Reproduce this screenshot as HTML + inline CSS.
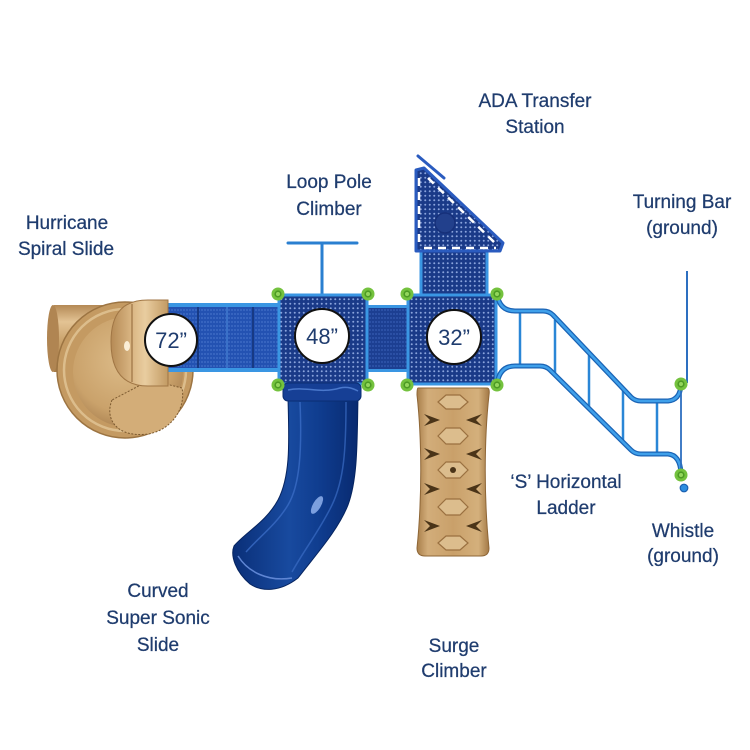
<!DOCTYPE html>
<html><head><meta charset="utf-8">
<style>html,body{margin:0;padding:0;background:#fff;}svg{display:block}</style></head>
<body>
<svg width="750" height="750" viewBox="0 0 750 750" xmlns="http://www.w3.org/2000/svg">
<defs>
<pattern id="deck" width="4.5" height="4.5" patternUnits="userSpaceOnUse">
 <rect width="4.5" height="4.5" fill="#1a3a88"/>
 <circle cx="2.25" cy="2.25" r="1" fill="#8aa3dc"/>
</pattern>
<pattern id="walk" width="3" height="4" patternUnits="userSpaceOnUse">
 <rect width="3" height="4" fill="#2352b2"/>
 <rect x="0" y="1.5" width="2" height="1" fill="#4a76cc"/>
</pattern>
<pattern id="walk2" width="3" height="4" patternUnits="userSpaceOnUse">
 <rect width="3" height="4" fill="#1c3f92"/>
 <rect x="0" y="1.5" width="2" height="1" fill="#3a62b8"/>
</pattern>
<linearGradient id="tubeG" x1="0" y1="0" x2="0" y2="1">
 <stop offset="0" stop-color="#b48955"/><stop offset="0.25" stop-color="#e3c394"/>
 <stop offset="0.55" stop-color="#c9a16a"/><stop offset="1" stop-color="#a57b47"/>
</linearGradient>
<radialGradient id="bowlG" cx="0.45" cy="0.4" r="0.65">
 <stop offset="0" stop-color="#dcbb88"/><stop offset="0.7" stop-color="#caa26b"/><stop offset="1" stop-color="#a98050"/>
</radialGradient>
<linearGradient id="hoodG" x1="0" y1="0" x2="1" y2="0">
 <stop offset="0" stop-color="#b58a55"/><stop offset="0.35" stop-color="#d8b481"/>
 <stop offset="0.6" stop-color="#e9cda0"/><stop offset="1" stop-color="#c29a63"/>
</linearGradient>
<linearGradient id="slideG" x1="0" y1="0" x2="1" y2="0">
 <stop offset="0" stop-color="#0a2f78"/><stop offset="0.45" stop-color="#184a9f"/>
 <stop offset="0.7" stop-color="#0f3c8e"/><stop offset="1" stop-color="#082a70"/>
</linearGradient>
<linearGradient id="surgeG" x1="0" y1="0" x2="1" y2="0">
 <stop offset="0" stop-color="#a97f4b"/><stop offset="0.15" stop-color="#d2ad7a"/>
 <stop offset="0.5" stop-color="#c9a06a"/><stop offset="0.85" stop-color="#d4b07c"/><stop offset="1" stop-color="#a27845"/>
</linearGradient>
<g id="bolt">
 <circle r="6.5" fill="#74c23e"/><circle r="3.6" fill="#4c9a24"/><circle r="2" fill="#93d65c"/>
</g>
</defs>

<!-- Spiral slide -->
<path d="M54,305 L108,305 L108,372 L54,372 Z" fill="url(#tubeG)"/>
<ellipse cx="53" cy="338.5" rx="6" ry="33.5" fill="#b08552"/>
<circle cx="125" cy="370" r="68" fill="#c49a62" stroke="#9c7442" stroke-width="1.5"/>
<circle cx="125" cy="370" r="61" fill="none" stroke="#dcbd8c" stroke-width="2.5"/>
<circle cx="128" cy="372" r="55" fill="url(#bowlG)"/>
<path d="M112,400 C104,420 118,438 148,434 C172,430 186,408 182,388 L150,380 Z" fill="#d3ad78" stroke="#7c5a30" stroke-width="1" stroke-dasharray="2,1.5"/>

<!-- walkway -->
<rect x="158" y="303" width="122" height="69" fill="url(#walk)"/>
<rect x="158" y="303" width="122" height="4" fill="#3a96e3"/>
<rect x="158" y="368" width="122" height="4" fill="#3a96e3"/>
<line x1="198" y1="307" x2="198" y2="368" stroke="#173a85" stroke-width="2"/>
<line x1="227" y1="307" x2="227" y2="368" stroke="#3a70c8" stroke-width="2"/>
<line x1="253" y1="307" x2="253" y2="368" stroke="#173a85" stroke-width="2"/>

<!-- hood -->
<path d="M111,342 C111,312 124,300 148,300 L168,300 L168,386 L148,386 C124,386 111,372 111,342 Z" fill="url(#hoodG)" stroke="#a07645" stroke-width="1"/>
<line x1="132" y1="304" x2="132" y2="382" stroke="#a98050" stroke-width="1.5"/>
<ellipse cx="127" cy="346" rx="3" ry="5" fill="#fbeed6"/>

<!-- 72 circle -->
<circle cx="171" cy="340" r="26" fill="#fff" stroke="#111" stroke-width="2"/>
<text x="171" y="348" font-family="Liberation Sans, sans-serif" font-size="22" fill="#1f3c6e" text-anchor="middle">72”</text>

<!-- bridge -->
<rect x="366" y="305" width="43" height="67" fill="url(#walk2)"/>
<rect x="366" y="305" width="43" height="3" fill="#3a96e3"/>
<rect x="366" y="369" width="43" height="3" fill="#3a96e3"/>

<!-- loop pole climber -->
<line x1="288" y1="243" x2="357" y2="243" stroke="#2a7fd0" stroke-width="3" stroke-linecap="round"/>
<line x1="322" y1="243" x2="322" y2="296" stroke="#2a7fd0" stroke-width="3"/>

<!-- ADA transfer -->
<rect x="421" y="248" width="66" height="47" fill="url(#deck)"/>
<line x1="421" y1="248" x2="421" y2="295" stroke="#3a96e3" stroke-width="3"/>
<line x1="487" y1="248" x2="487" y2="295" stroke="#3a96e3" stroke-width="3"/>
<path d="M416,170 L424,168 L503,243 L500,251 L416,251 Z" fill="url(#deck)" stroke="#2a5bbf" stroke-width="3" stroke-linejoin="round"/>
<line x1="428" y1="178" x2="495" y2="243" stroke="#fff" stroke-width="2.5" stroke-dasharray="8,6"/>
<line x1="424" y1="248" x2="496" y2="248" stroke="#fff" stroke-width="2.5" stroke-dasharray="8,6"/>
<line x1="419" y1="178" x2="419" y2="245" stroke="#fff" stroke-width="2.5" stroke-dasharray="8,6"/>
<circle cx="445" cy="223" r="10" fill="#22408c" stroke="#16307a" stroke-width="1.5"/>
<line x1="418" y1="156" x2="444" y2="178" stroke="#2a5bbf" stroke-width="3" stroke-linecap="round"/>

<!-- decks -->
<rect x="279" y="295" width="88" height="89" rx="3" fill="url(#deck)" stroke="#3a96e3" stroke-width="3"/>
<rect x="408" y="295" width="88" height="89" rx="3" fill="url(#deck)" stroke="#3a96e3" stroke-width="3"/>

<circle cx="322" cy="336" r="27" fill="#fff" stroke="#111" stroke-width="2"/>
<text x="322" y="344" font-family="Liberation Sans, sans-serif" font-size="22" fill="#1f3c6e" text-anchor="middle">48”</text>
<circle cx="454" cy="337" r="27" fill="#fff" stroke="#111" stroke-width="2"/>
<text x="454" y="345" font-family="Liberation Sans, sans-serif" font-size="22" fill="#1f3c6e" text-anchor="middle">32”</text>

<!-- ladder -->
<g stroke="#2a86d6" stroke-width="2.5">
 <line x1="520" y1="311" x2="520" y2="366"/>
 <line x1="555" y1="320" x2="555" y2="377"/>
 <line x1="589" y1="354" x2="589" y2="409"/>
 <line x1="623" y1="389" x2="623" y2="441"/>
 <line x1="657" y1="401" x2="657" y2="454"/>
</g>
<g fill="none" stroke-linecap="round" stroke-linejoin="round">
 <path d="M497,293 Q499,311 515,311 L543,311 Q549,311 553,315 L631,397 Q635,401 641,401 L668,401 Q680,400 681,385" stroke="#1a63b5" stroke-width="5"/>
 <path d="M497,385 Q499,366 515,366 L540,366 Q546,366 550,370 L631,450 Q635,454 641,454 L668,454 Q680,455 681,473" stroke="#1a63b5" stroke-width="5"/>
 <path d="M497,293 Q499,311 515,311 L543,311 Q549,311 553,315 L631,397 Q635,401 641,401 L668,401 Q680,400 681,385" stroke="#3fa0ea" stroke-width="2.5"/>
 <path d="M497,385 Q499,366 515,366 L540,366 Q546,366 550,370 L631,450 Q635,454 641,454 L668,454 Q680,455 681,473" stroke="#3fa0ea" stroke-width="2.5"/>
</g>
<line x1="687" y1="271" x2="687" y2="383" stroke="#2d6fc0" stroke-width="2"/>
<line x1="681" y1="385" x2="681" y2="473" stroke="#2d6fc0" stroke-width="1.8"/>
<circle cx="684" cy="488" r="3.8" fill="#2d8ee0" stroke="#1a5fb0" stroke-width="1.2"/>

<!-- curved slide -->
<path d="M288,398 C289,440 291,475 278,500 C266,522 246,532 234,546 C230,556 236,572 250,584 C262,592 280,592 298,578 C318,552 338,530 348,505 C358,478 357,440 358,398 Z" fill="url(#slideG)" stroke="#06245f" stroke-width="1"/>
<path d="M300,402 C302,450 300,485 288,505 C276,525 258,538 246,552" fill="none" stroke="#3a6cc4" stroke-width="1.5" opacity="0.8"/>
<path d="M346,402 C346,450 344,480 332,505 C320,530 304,550 292,572" fill="none" stroke="#3a6cc4" stroke-width="1.5" opacity="0.7"/>
<ellipse cx="317" cy="505" rx="4" ry="10" transform="rotate(30 317 505)" fill="#8fb0ec" opacity="0.85"/>
<path d="M238,556 C248,572 268,582 292,578" fill="none" stroke="#5f86d4" stroke-width="1.5"/>
<rect x="283" y="383" width="78" height="18" rx="5" fill="#163f95" stroke="#0a2d72" stroke-width="1"/>
<path d="M288,390 C305,386 320,394 340,388 C348,386 354,389 358,391" fill="none" stroke="#4a78cc" stroke-width="1.5"/>

<!-- surge climber -->
<path d="M418,388 L487,388 Q490,388 489,395 C484,440 484,500 489,548 Q489,556 481,556 L425,556 Q417,556 417,548 C422,500 422,440 417,395 Q417,388 418,388 Z" fill="url(#surgeG)" stroke="#8e6636" stroke-width="1"/>
<g fill="#dcbd8d" stroke="#9a7040" stroke-width="1.2">
 <path d="M438,402 L446,395 L460,395 L468,402 L460,409 L446,409 Z"/>
 <path d="M438,436 L446,428 L460,428 L468,436 L460,444 L446,444 Z"/>
 <path d="M438,470 L446,462 L460,462 L468,470 L460,478 L446,478 Z"/>
 <path d="M438,507 L446,499 L460,499 L468,507 L460,515 L446,515 Z"/>
 <path d="M438,543 L446,536 L460,536 L468,543 L460,550 L446,550 Z"/>
</g>
<g fill="#4a3418">
 <circle cx="453" cy="470" r="3"/>
 <path d="M424,414 L440,420 L424,426 L430,420 Z"/>
 <path d="M482,414 L466,420 L482,426 L476,420 Z"/>
 <path d="M424,448 L440,454 L424,460 L430,454 Z"/>
 <path d="M482,448 L466,454 L482,460 L476,454 Z"/>
 <path d="M424,483 L440,489 L424,495 L430,489 Z"/>
 <path d="M482,483 L466,489 L482,495 L476,489 Z"/>
 <path d="M424,520 L440,526 L424,532 L430,526 Z"/>
 <path d="M482,520 L466,526 L482,532 L476,526 Z"/>
</g>

<!-- bolts -->
<use href="#bolt" x="278" y="294"/>
<use href="#bolt" x="368" y="294"/>
<use href="#bolt" x="278" y="385"/>
<use href="#bolt" x="368" y="385"/>
<use href="#bolt" x="407" y="294"/>
<use href="#bolt" x="497" y="294"/>
<use href="#bolt" x="407" y="385"/>
<use href="#bolt" x="497" y="385"/>
<use href="#bolt" x="681" y="384"/>
<use href="#bolt" x="681" y="475"/>

<!-- labels -->
<g font-family="Liberation Sans, sans-serif" font-size="19" fill="#1f3c6e" stroke="#1f3c6e" stroke-width="0.25" text-anchor="middle">
 <text x="67" y="229">Hurricane</text>
 <text x="66" y="255">Spiral Slide</text>
 <text x="329" y="188">Loop Pole</text>
 <text x="329" y="215">Climber</text>
 <text x="535" y="107">ADA Transfer</text>
 <text x="535" y="133">Station</text>
 <text x="682" y="208">Turning Bar</text>
 <text x="682" y="234">(ground)</text>
 <text x="566" y="488">‘S’ Horizontal</text>
 <text x="566" y="514">Ladder</text>
 <text x="683" y="537">Whistle</text>
 <text x="683" y="562">(ground)</text>
 <text x="158" y="597">Curved</text>
 <text x="158" y="624">Super Sonic</text>
 <text x="158" y="651">Slide</text>
 <text x="454" y="652">Surge</text>
 <text x="454" y="677">Climber</text>
</g>
</svg>
</body></html>
